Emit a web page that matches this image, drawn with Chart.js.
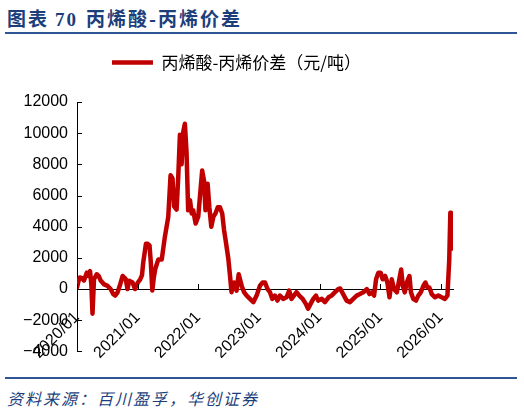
<!DOCTYPE html>
<html>
<head>
<meta charset="utf-8">
<script src="https://cdn.jsdelivr.net/npm/chart.js@4"></script>
<style>
  body { margin: 0; width: 524px; height: 413px; background: #fff; position: relative; overflow: hidden; }
  #title { position: absolute; left: 7px; top: 4px; font: bold 19px "Noto Sans CJK SC", serif; color: #1c3f7c; letter-spacing: 2px; }
  #title .num { font-family: "Liberation Serif", serif; margin: 0 8px 0 6px; }
  .rule { position: absolute; left: 5px; width: 512px; height: 2px; background: #2f5597; }
  #source { position: absolute; left: 7px; top: 386px; font: italic 16px "Noto Sans CJK SC", sans-serif; color: #1c3f7c; letter-spacing: 2px; }
  #wrap { position: absolute; left: 0; top: 40px; width: 524px; height: 330px; }
</style>
</head>
<body>
<div id="title">图表<span class="num">70</span>丙烯酸-丙烯价差</div>
<div class="rule" style="top:32px"></div>
<div id="wrap"><canvas id="chart"></canvas></div>
<div class="rule" style="top:377px"></div>
<div id="source">资料来源：百川盈孚，华创证券</div>
<script>
// Data (yuan/ton)
const seriesName = '丙烯酸-丙烯价差（元/吨）';
const dates = [
  '2020-01-01', '2020-01-10', '2020-01-19', '2020-02-01', '2020-02-12', '2020-02-28', '2020-03-10', '2020-03-19',
  '2020-03-27', '2020-04-03', '2020-04-12', '2020-04-28', '2020-05-10', '2020-05-23', '2020-06-12', '2020-07-03',
  '2020-07-21', '2020-08-06', '2020-08-18', '2020-09-02', '2020-09-15', '2020-10-02', '2020-10-12', '2020-10-21',
  '2020-11-01', '2020-11-11', '2020-12-01', '2020-12-16', '2021-01-01', '2021-01-16', '2021-01-28', '2021-02-04',
  '2021-02-19', '2021-03-01', '2021-03-12', '2021-03-20', '2021-03-29', '2021-04-08', '2021-04-16', '2021-05-04',
  '2021-05-25', '2021-06-13', '2021-07-03', '2021-07-17', '2021-07-29', '2021-08-08', '2021-08-23', '2021-09-02',
  '2021-09-12', '2021-09-22', '2021-10-02', '2021-10-12', '2021-10-22', '2021-11-01', '2021-11-12', '2021-11-22',
  '2021-12-01', '2021-12-16', '2022-01-01', '2022-01-11', '2022-01-25', '2022-02-05', '2022-02-13', '2022-02-25',
  '2022-03-07', '2022-03-19', '2022-04-01', '2022-04-13', '2022-04-27', '2022-05-10', '2022-05-24', '2022-06-04',
  '2022-06-16', '2022-06-30', '2022-07-10', '2022-07-19', '2022-08-03', '2022-08-19', '2022-09-01', '2022-09-19',
  '2022-10-03', '2022-10-19', '2022-11-08', '2022-11-28', '2022-12-18', '2023-01-07', '2023-01-24', '2023-02-07',
  '2023-02-21', '2023-03-07', '2023-03-21', '2023-04-06', '2023-04-21', '2023-05-06', '2023-05-26', '2023-06-15',
  '2023-07-01', '2023-07-15', '2023-07-30', '2023-08-15', '2023-09-01', '2023-09-21', '2023-10-10', '2023-10-24',
  '2023-11-08', '2023-11-24', '2023-12-10', '2023-12-24', '2024-01-15', '2024-02-03', '2024-02-24', '2024-03-13',
  '2024-04-03', '2024-04-22', '2024-05-03', '2024-05-22', '2024-06-12', '2024-07-02', '2024-07-22', '2024-08-12',
  '2024-09-01', '2024-09-21', '2024-10-12', '2024-10-28', '2024-11-12', '2024-11-25', '2024-12-07', '2024-12-21',
  '2025-01-04', '2025-01-16', '2025-02-01', '2025-02-13', '2025-02-25', '2025-03-10', '2025-03-24', '2025-04-10',
  '2025-04-25', '2025-05-06', '2025-05-16', '2025-05-28', '2025-06-09', '2025-06-25', '2025-07-04', '2025-07-18',
  '2025-08-04', '2025-08-18', '2025-09-02', '2025-09-18', '2025-09-30', '2025-10-12', '2025-10-24', '2025-11-07',
  '2025-11-27', '2025-12-17', '2026-01-06', '2026-01-26', '2026-02-10', '2026-02-20', '2026-02-26', '2026-03-01',
  '2026-03-06', '2026-03-10', '2026-03-14'
];
const spread = [
  100, 500, 740, 700, 550, 1050, 850, 1150,
  300, -1580, 630, 950, 840, 530, 300, 200,
  0, -320, -420, -210, 210, 840, 740, 630,
  0, 530, 420, 0, 400, 600, 900, 1700,
  2900, 2900, 2800, 1700, -100, 800, 1300, 1900,
  1900, 3370, 4630, 7300, 7100, 5300, 5100, 7150,
  9900, 8000, 10100, 10600, 8800, 5050, 5700, 4850,
  5050, 4200, 4650, 5900, 7600, 6950, 5050, 6750,
  5250, 4000, 4650, 4850, 5250, 5250, 4850, 3800,
  2950, 1900, 840, -200, 420, -100, 950, 200,
  -200, -420, -630, -840, -420, 200, 420, 420,
  0, -200, -630, -420, -740, -420, -630, -530,
  -100, -630, -420, -200, -420, -630, -950, -1260,
  -950, -630, -420, -740, -630, -840, -530, -420,
  -200, 0, 40, -320, -740, -840, -630, -420,
  -320, -210, 0, -320, -210, -420, 630, 1050,
  1050, 630, 840, 420, -530, 630, 0, -210,
  630, 1260, 210, -210, 420, 840, -210, -630,
  -740, -420, -210, 210, 420, 100, 100, -320,
  -530, -420, -530, -630, -420, 1900, 4900, 4400,
  2600, 3600, 2800
];
const yearTicks = [2020, 2021, 2022, 2023, 2024, 2025, 2026];
const yTicks = [-4000, -2000, 0, 2000, 4000, 6000, 8000, 10000, 12000];

// months since 2020/01, used as the x value
function toMonths(s) {
  const [y, m, d] = s.split('-').map(Number);
  const days = new Date(y, m, 0).getDate();
  return (y - 2020) * 12 + (m - 1) + (d - 1) / days;
}

const points = dates.map((d, i) => ({ x: toMonths(d), y: spread[i] }));
const tickFont = { family: '"Liberation Sans", Arial, sans-serif', size: 16 };

// inward tick marks like the source chart
const innerTicks = {
  id: 'innerTicks',
  afterDraw(chart) {
    const { ctx, scales: { x, y } } = chart;
    const y0 = y.getPixelForValue(0);
    ctx.save();
    ctx.strokeStyle = '#000';
    ctx.lineWidth = 1;
    ctx.beginPath();
    yTicks.forEach(v => {
      const py = Math.round(y.getPixelForValue(v)) + 0.5;
      ctx.moveTo(x.left, py);
      ctx.lineTo(x.left + 5, py);
    });
    yearTicks.forEach(yr => {
      const px = Math.round(x.getPixelForValue((yr - 2020) * 12)) + 0.5;
      ctx.moveTo(px, y0);
      ctx.lineTo(px, y0 - 5);
    });
    ctx.stroke();
    ctx.restore();
  }
};

new Chart(document.getElementById('chart'), {
  type: 'line',
  data: {
    datasets: [{
      label: seriesName,
      data: points,
      borderColor: '#c00000',
      backgroundColor: '#c00000',
      borderWidth: 4.5,
      borderCapStyle: 'round',
      borderJoinStyle: 'round',
      pointRadius: 0,
      tension: 0
    }]
  },
  options: {
    responsive: true,
    maintainAspectRatio: false,
    animation: false,
    layout: { padding: { top: 4, left: 20, right: 71, bottom: 10 } },
    plugins: {
      legend: {
        labels: {
          usePointStyle: true,
          pointStyle: 'line',
          pointStyleWidth: 41,
          color: '#000',
          padding: 10,
          font: { family: '"Noto Sans CJK SC", sans-serif', size: 17 }
        }
      },
      subtitle: { display: true, text: '', weight: 500, font: { size: 10 }, padding: { top: 9, bottom: 0 } },
      tooltip: { enabled: false }
    },
    scales: {
      x: {
        type: 'linear',
        position: { y: 0 },
        min: 0,
        max: points[points.length - 1].x,
        afterFit(scale) {
          scale.height = 0;
          scale.paddingLeft = 0;
          scale.paddingRight = 0;
        },
        afterBuildTicks(scale) {
          scale.ticks = yearTicks.map(yr => ({ value: (yr - 2020) * 12 }));
        },
        grid: { display: false, drawTicks: false },
        border: { display: true, color: '#000', width: 1 },
        ticks: {
          minRotation: 45,
          maxRotation: 45,
          padding: 19,
          color: '#000',
          font: tickFont,
          callback: v => (2020 + Math.round(v / 12)) + '/01'
        }
      },
      y: {
        min: -4000,
        max: 12000,
        afterFit(scale) { scale.width = 57; },
        afterBuildTicks(scale) { scale.ticks = yTicks.map(v => ({ value: v })); },
        grid: { display: false, drawTicks: false },
        border: { display: true, color: '#000', width: 1 },
        ticks: {
          padding: 9,
          color: '#000',
          font: tickFont,
          callback: v => (v < 0 ? '\u2212' + Math.abs(v) : String(v))
        }
      }
    }
  },
  plugins: [innerTicks]
});
</script>
</body>
</html>
